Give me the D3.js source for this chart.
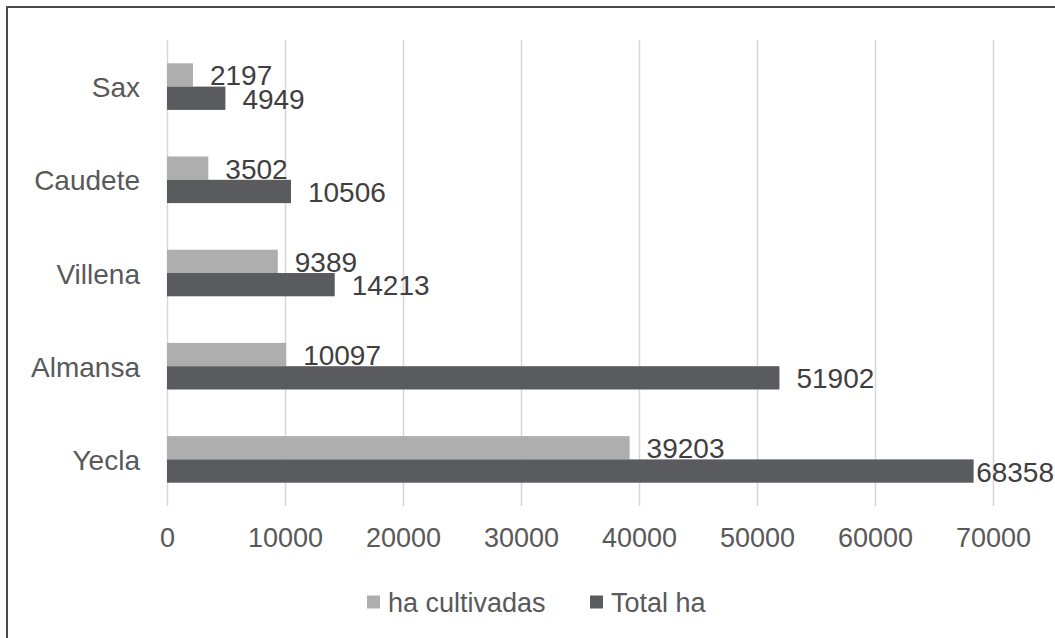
<!DOCTYPE html>
<html>
<head>
<meta charset="utf-8">
<script src="https://cdn.jsdelivr.net/npm/d3@7"></script>
<style>
  body { margin: 0; background: #fff; }
  text { font-family: "Liberation Sans", Arial, sans-serif; }
</style>
</head>
<body>
<div id="chart"></div>
<script>
const categories = ["Sax", "Caudete", "Villena", "Almansa", "Yecla"];
const cultivadas = [2197, 3502, 9389, 10097, 39203];
const totalHa = [4949, 10506, 14213, 51902, 68358];
const seriesNames = ["ha cultivadas", "Total ha"];
const seriesColors = ["#aeaeae", "#5a5b5e"];
const xTicks = [0, 10000, 20000, 30000, 40000, 50000, 60000, 70000];

const W = 1055, H = 638;
const PLOT = { LEFT: 167, RIGHT: 993, TOP: 40, BOTTOM: 506 };

const svg = d3.select("#chart").append("svg")
  .attr("width", W)
  .attr("height", H);

svg.append("rect").attr("width", W).attr("height", H).attr("fill", "#fff");

// frame of the scanned figure (only top and left edges are visible)
svg.append("path")
  .attr("d", `M7,${H} V7 H${W}`)
  .attr("fill", "none")
  .attr("stroke", "#4a4a4a")
  .attr("stroke-width", 2);

const x = d3.scaleLinear()
  .domain([0, 70000])
  .range([PLOT.LEFT, PLOT.RIGHT]);

const y0 = d3.scaleBand()
  .domain(categories)
  .range([PLOT.TOP, PLOT.BOTTOM])
  .paddingInner(0.5)
  .paddingOuter(0.25);

const y1 = d3.scaleBand()
  .domain(seriesNames)
  .range([0, y0.bandwidth()]);

// gridlines + tick labels
const xAxis = svg.append("g")
  .attr("transform", `translate(0, ${PLOT.BOTTOM})`)
  .call(d3.axisBottom(x)
    .tickValues(xTicks)
    .tickFormat(d3.format("d"))
    .tickSize(-(PLOT.BOTTOM - PLOT.TOP))
    .tickPadding(22));
xAxis.select(".domain").remove();
xAxis.selectAll("line").attr("stroke", "#d6d6d6").attr("stroke-width", 1.5);
xAxis.selectAll("text")
  .attr("fill", "#595959")
  .style("font-size", "27px");

// category labels
const yAxis = svg.append("g")
  .attr("transform", `translate(${PLOT.LEFT}, 0)`)
  .call(d3.axisLeft(y0).tickSize(0).tickPadding(27));
yAxis.select(".domain").remove();
yAxis.selectAll("text")
  .attr("fill", "#595959")
  .style("font-size", "28px")
  .attr("dy", "0.38em");

const rows = categories.map((c, i) => ({
  cat: c,
  vals: [
    { s: seriesNames[0], v: cultivadas[i], color: seriesColors[0] },
    { s: seriesNames[1], v: totalHa[i], color: seriesColors[1] }
  ]
}));

const groups = svg.selectAll("g.cat")
  .data(rows)
  .enter().append("g")
    .attr("class", "cat")
    .attr("transform", d => `translate(0, ${y0(d.cat)})`);

groups.selectAll("rect")
  .data(d => d.vals)
  .enter().append("rect")
    .attr("x", x(0))
    .attr("y", d => y1(d.s))
    .attr("width", d => x(d.v) - x(0))
    .attr("height", y1.bandwidth())
    .attr("fill", d => d.color);

groups.selectAll("text.val")
  .data(d => d.vals)
  .enter().append("text")
    .attr("class", "val")
    .attr("x", d => x(d.v) + 17)
    .attr("y", d => y1(d.s) + y1.bandwidth() / 2 + 1)
    .attr("dominant-baseline", "central")
    .attr("fill", "#3f3f3f")
    .style("font-size", "28px")
    .text(d => d.v)
    .each(function(d) {
      // keep labels inside the picture, like the reference does for 68358
      const len = this.getComputedTextLength();
      const maxX = W - 1 - len;
      if (x(d.v) + 17 > maxX) d3.select(this).attr("x", Math.max(x(d.v) + 1, maxX));
    });

// legend
const legendX = [367, 590];
const legend = svg.selectAll("g.legend")
  .data(seriesNames)
  .enter().append("g")
    .attr("class", "legend")
    .attr("transform", (d, i) => `translate(${legendX[i]}, 602)`);

legend.append("rect")
  .attr("x", 0)
  .attr("y", -6.5)
  .attr("width", 13)
  .attr("height", 13)
  .attr("fill", (d, i) => seriesColors[i]);

legend.append("text")
  .attr("x", 21)
  .attr("y", 1)
  .attr("dominant-baseline", "central")
  .attr("fill", "#595959")
  .style("font-size", "27px")
  .text(d => d);
</script>
</body>
</html>
